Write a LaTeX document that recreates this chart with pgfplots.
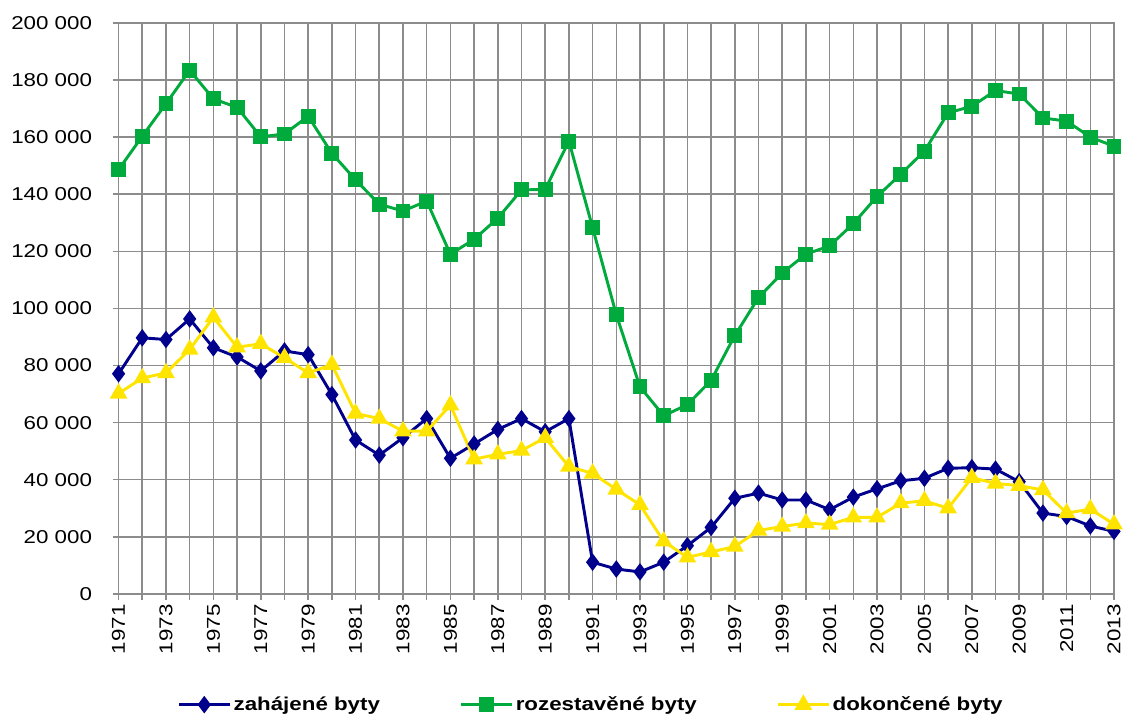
\documentclass[border=0pt]{standalone}
\usepackage{fontspec}
\setmainfont{Liberation Sans}[FakeStretch=1.2]
\usepackage{pgfplots}
\usepackage{pgfplotstable}
\pgfplotsset{compat=1.18}
\definecolor{cblue}{RGB}{0,0,140}
\definecolor{cgreen}{RGB}{0,170,60}
\definecolor{cyellow}{RGB}{255,228,0}
\definecolor{cgrid}{RGB}{140,140,140}

\pgfplotstableread{
year val
1971 77100
1972 89700
1973 89100
1974 96300
1975 86200
1976 83000
1977 78100
1978 85100
1979 83800
1980 69800
1981 53900
1982 48600
1983 54700
1984 61400
1985 47500
1986 52500
1987 57600
1988 61400
1989 56800
1990 61400
1991 11100
1992 8700
1993 7700
1994 11100
1995 16900
1996 23300
1997 33500
1998 35300
1999 32900
2000 32900
2001 29500
2002 33900
2003 36800
2004 39600
2005 40500
2006 44000
2007 44200
2008 43700
2009 39300
2010 28300
2011 27100
2012 23800
2013 21900
}\zahajene

\pgfplotstableread{
year val
1971 148600
1972 160300
1973 171700
1974 183400
1975 173400
1976 170400
1977 160100
1978 161100
1979 167300
1980 154300
1981 145000
1982 136500
1983 134100
1984 137600
1985 119000
1986 124200
1987 131600
1988 141500
1989 141700
1990 158600
1991 128300
1992 97800
1993 72500
1994 62400
1995 66300
1996 74800
1997 90500
1998 103800
1999 112400
2000 119000
2001 121900
2002 129700
2003 139200
2004 147000
2005 155100
2006 168500
2007 170800
2008 176300
2009 175100
2010 166700
2011 165600
2012 160000
2013 156800
}\rozestavene

\pgfplotstableread{
year val
1971 70200
1972 75600
1973 77400
1974 85600
1975 96900
1976 86400
1977 87600
1978 82700
1979 77400
1980 80300
1981 63200
1982 61400
1983 57000
1984 57000
1985 66100
1986 47200
1987 48900
1988 50200
1989 54700
1990 44600
1991 42200
1992 36600
1993 31200
1994 18400
1995 12800
1996 14700
1997 16600
1998 22200
1999 23600
2000 24800
2001 24300
2002 26800
2003 26800
2004 31800
2005 32600
2006 30000
2007 40700
2008 38700
2009 37900
2010 36400
2011 28300
2012 29700
2013 24400
}\dokoncene

\begin{document}
\begin{tikzpicture}
\path[use as bounding box] (-89.25pt,-92.25pt) rectangle (757.5pt,447pt);
\begin{axis}[
  at={(0,0)}, anchor=south west, scale only axis,
  width=749.25pt, height=429.75pt,
  xmin=1971, xmax=2013, ymin=0, ymax=200000,
  clip=false,
  xtick={1971,1973,...,2013}, minor x tick num=1,
  ytick={0,20000,...,200000},
  grid=both,
  major grid style={cgrid, line width=1.2pt},
  minor grid style={cgrid, line width=1.2pt},
  axis line style={cgrid, line width=1.2pt},
  every tick/.style={cgrid, line width=1.2pt},
  tick align=outside, major tick length=4.5pt, minor tick length=4.5pt,
  xtick pos=left, ytick pos=left,
  font=\fontsize{14}{16}\selectfont,
  scaled y ticks=false,
  /pgf/number format/assume math mode=true,
  yticklabel style={/pgf/number format/.cd, fixed, 1000 sep={\ }, /tikz/.cd, xshift=-12pt},
  xticklabel style={/pgf/number format/1000 sep={}, rotate=90, anchor=east},
  legend style={at={(0.475,-0.194)}, anchor=center, draw=none, fill=none,
    legend columns=3, font=\fontsize{14}{16}\selectfont\bfseries,
    /tikz/every even column/.append style={column sep=58pt},
    inner sep=0pt},
  legend image code/.code={\draw[mark repeat=2,mark phase=2] plot coordinates {(0pt,0pt) (19pt,0pt) (38pt,0pt)};},
]
\addplot[cblue, line width=2.2pt, mark=diamond*, mark size=4.8pt, mark options={solid}] table[x=year,y=val] {\zahajene};
\addlegendentry{zahájené byty}
\addplot[cgreen, line width=2.2pt, mark=square*, mark size=4.5pt] table[x=year,y=val] {\rozestavene};
\addlegendentry{rozestavěné byty}
\addplot[cyellow, line width=2.2pt, mark=triangle*, mark size=5.5pt] table[x=year,y=val] {\dokoncene};
\addlegendentry{dokončené byty}
\end{axis}
\end{tikzpicture}
\end{document}
